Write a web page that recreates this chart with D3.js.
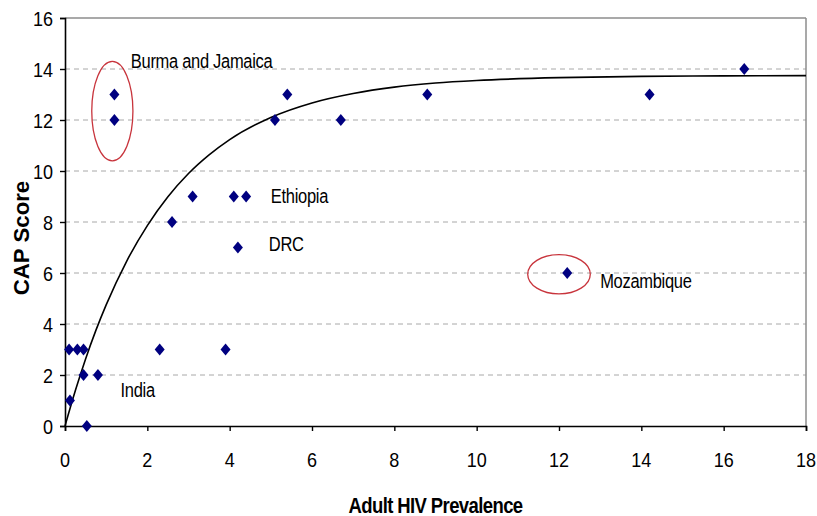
<!DOCTYPE html>
<html>
<head>
<meta charset="utf-8">
<script src="https://d3js.org/d3.v7.min.js"></script>
<style>
  html, body { margin: 0; padding: 0; background: #fff; }
  svg { display: block; }
  text { font-family: "Liberation Sans", Arial, sans-serif; fill: #000; }
</style>
</head>
<body>
<svg id="chart" width="817" height="516"></svg>
<script>
// ---- data ----
const hivPrevalence = [1.2, 1.2, 5.1, 5.4, 6.7, 8.8, 14.2, 16.5, 12.2, 3.1, 4.1, 4.4, 2.6, 4.2, 0.1, 0.3, 0.45, 2.3, 3.9, 0.45, 0.8, 0.12, 0.53];
const capScore      = [13, 12, 12, 13, 12, 13, 13, 14, 6, 9, 9, 9, 8, 7, 3, 3, 3, 3, 3, 2, 2, 1, 0];
const trendX = [0, 0.25, 0.5, 0.75, 1, 1.5, 2, 2.5, 3, 3.5, 4, 5, 6, 7, 8, 9, 10, 12, 14, 16, 18];
const trendY = [0, 1.38, 2.63, 3.75, 4.75, 6.47, 7.86, 8.99, 9.9, 10.63, 11.23, 12.1, 12.67, 13.04, 13.29, 13.45, 13.55, 13.66, 13.71, 13.73, 13.74];
const xTicks = [0, 2, 4, 6, 8, 10, 12, 14, 16, 18];
const yTicks = [0, 2, 4, 6, 8, 10, 12, 14, 16];
const labelNames = ["Burma and Jamaica", "Ethiopia", "DRC", "India", "Mozambique"];
const labelX     = [1.6, 5.0, 4.95, 1.35, 13.0];
const labelY     = [14.05, 8.75, 6.85, 1.15, 5.4];
const circledX   = [1.15, 12.0];
const circledY   = [12.35, 5.95];
const circledRX  = [0.5, 0.76];
const circledRY  = [1.95, 0.77];
const xTitle = "Adult HIV Prevalence";
const yTitle = "CAP Score";

// ---- layout ----
const svg = d3.select("#chart");
const L = 65, R = 806, T = 18, B = 426;
const x = d3.scaleLinear().domain([0, 18]).range([L, R]);
const y = d3.scaleLinear().domain([0, 16]).range([B, T]);
const SY = 1.17; // vertical stretch of the reference's text

// gridlines
svg.append("g").selectAll("line").data(yTicks.filter(v => v > 0 && v < 16)).join("line")
  .attr("x1", L).attr("x2", R).attr("y1", d => y(d)).attr("y2", d => y(d))
  .attr("stroke", "#a8a8a8").attr("stroke-width", 1).attr("stroke-dasharray", "5,4");

// frame (top & right gray)
svg.append("line").attr("x1", L).attr("x2", R).attr("y1", T).attr("y2", T)
  .attr("stroke", "#8c8c8c").attr("stroke-width", 1.5);
svg.append("line").attr("x1", R).attr("x2", R).attr("y1", T).attr("y2", B)
  .attr("stroke", "#8c8c8c").attr("stroke-width", 1.5);

// axes
const xAxis = svg.append("g").attr("transform", `translate(0,${B})`)
  .call(d3.axisBottom(x).tickValues(xTicks).tickSize(5).tickFormat(""));
const yAxis = svg.append("g").attr("transform", `translate(${L},0)`)
  .call(d3.axisLeft(y).tickValues(yTicks).tickSize(5).tickFormat(""));
[xAxis, yAxis].forEach(a => {
  a.select(".domain").attr("stroke", "#000").attr("stroke-width", 1.6);
  a.selectAll(".tick line").attr("stroke", "#000").attr("stroke-width", 1.4);
});

// tick labels (stretched vertically like the reference)
svg.append("g").selectAll("text").data(xTicks).join("text")
  .attr("transform", d => `translate(${x(d)},467) scale(1,${SY})`)
  .attr("text-anchor", "middle").attr("font-size", 18).text(d => d);
svg.append("g").selectAll("text").data(yTicks).join("text")
  .attr("transform", d => `translate(53,${y(d) + 7.5}) scale(1,${SY})`)
  .attr("text-anchor", "end").attr("font-size", 18).text(d => d);

// axis titles
svg.append("text")
  .attr("transform", `translate(${(L + R) / 2},513) scale(1,${SY})`)
  .attr("text-anchor", "middle").attr("font-size", 18.5).attr("font-weight", "bold")
  .attr("letter-spacing", -0.6).text(xTitle);
svg.append("text")
  .attr("transform", `translate(29,238) rotate(-90) scale(${SY},1.15)`)
  .attr("text-anchor", "middle").attr("font-size", 19).attr("font-weight", "bold")
  .text(yTitle);

// trend line
const line = d3.line().x(d => x(d[0])).y(d => y(d[1])).curve(d3.curveMonotoneX);
svg.append("path").datum(d3.zip(trendX, trendY))
  .attr("d", line).attr("fill", "none").attr("stroke", "#000").attr("stroke-width", 1.6);

// points (diamonds)
const diamond = {
  draw(ctx, size) {
    const w = 5, h = 6;
    ctx.moveTo(0, -h); ctx.lineTo(w, 0); ctx.lineTo(0, h); ctx.lineTo(-w, 0); ctx.closePath();
  }
};
svg.append("g").selectAll("path").data(d3.zip(hivPrevalence, capScore)).join("path")
  .attr("transform", d => `translate(${x(d[0])},${y(d[1])})`)
  .attr("d", d3.symbol().type(diamond)())
  .attr("fill", "#000080");

// red ellipses
svg.append("g").selectAll("ellipse").data(d3.range(circledX.length)).join("ellipse")
  .attr("cx", i => x(circledX[i])).attr("cy", i => y(circledY[i]))
  .attr("rx", i => x(circledRX[i]) - x(0)).attr("ry", i => y(0) - y(circledRY[i]))
  .attr("fill", "none").attr("stroke", "#c8343c").attr("stroke-width", 1.3);

// annotation labels
svg.append("g").selectAll("text").data(d3.range(labelNames.length)).join("text")
  .attr("transform", i => `translate(${x(labelX[i])},${y(labelY[i])}) scale(1,${SY})`)
  .attr("font-size", 16.5).attr("letter-spacing", -0.3).text(i => labelNames[i]);
</script>
</body>
</html>
